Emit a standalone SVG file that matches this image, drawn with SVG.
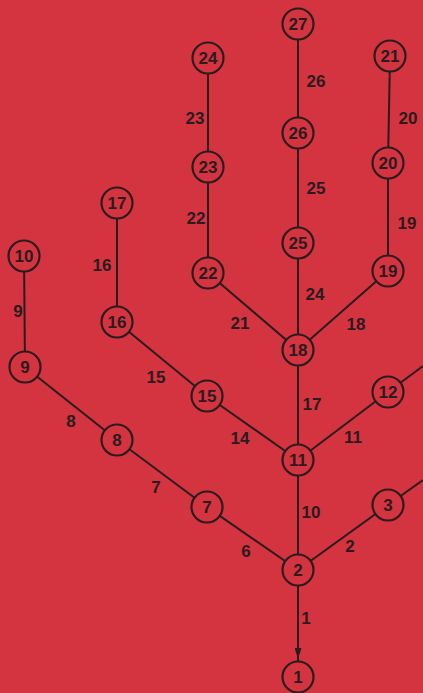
<svg xmlns="http://www.w3.org/2000/svg" width="423" height="693" viewBox="0 0 423 693">
<style>
.e{stroke:#2a1b1e;stroke-width:2;fill:none}
.n circle{fill:#d4343f;stroke:#2a1b1e;stroke-width:2.2}
.n text,.l{font-family:"Liberation Sans",Arial,sans-serif;font-weight:bold;fill:#2a1b1e;text-anchor:middle}
.n text{font-size:17px}
.l{font-size:17px}
</style>
<defs>
<marker id="ar" markerWidth="11" markerHeight="7" refX="11" refY="3.5" orient="auto" markerUnits="userSpaceOnUse" viewBox="0 0 11 7"><path d="M0,0 L11,3.5 L0,7 z" fill="#2a1b1e"/></marker>
</defs>
<rect width="423" height="693" fill="#d4343f"/>
<g id="connectors">
<line class="e" x1="298" y1="585" x2="298" y2="663"/>
<line class="e" x1="298" y1="600" x2="298" y2="659" marker-end="url(#ar)"/>
<line class="e" x1="298" y1="570" x2="207" y2="507"/>
<line class="e" x1="207" y1="507" x2="117" y2="440"/>
<line class="e" x1="117" y1="440" x2="25" y2="367"/>
<line class="e" x1="25" y1="367" x2="24" y2="256"/>
<line class="e" x1="298" y1="570" x2="298" y2="460"/>
<line class="e" x1="298" y1="570" x2="388" y2="505"/>
<line class="e" x1="388" y1="505" x2="423" y2="480"/>
<line class="e" x1="298" y1="460" x2="207" y2="396"/>
<line class="e" x1="207" y1="396" x2="117" y2="322"/>
<line class="e" x1="117" y1="322" x2="117" y2="203"/>
<line class="e" x1="298" y1="460" x2="298" y2="350"/>
<line class="e" x1="298" y1="460" x2="388" y2="392"/>
<line class="e" x1="388" y1="392" x2="423" y2="366"/>
<line class="e" x1="298" y1="350" x2="208" y2="273"/>
<line class="e" x1="208" y1="273" x2="208" y2="167"/>
<line class="e" x1="208" y1="167" x2="208" y2="58"/>
<line class="e" x1="298" y1="350" x2="298" y2="243"/>
<line class="e" x1="298" y1="243" x2="298" y2="133"/>
<line class="e" x1="298" y1="133" x2="298" y2="24"/>
<line class="e" x1="298" y1="350" x2="388" y2="271"/>
<line class="e" x1="388" y1="271" x2="388" y2="163"/>
<line class="e" x1="388" y1="163" x2="390" y2="56"/>
</g>
<g id="edge-labels">
<text class="l" x="306" y="624">1</text>
<text class="l" x="350" y="552">2</text>
<text class="l" x="246" y="557">6</text>
<text class="l" x="156" y="493">7</text>
<text class="l" x="71" y="427">8</text>
<text class="l" x="18" y="317">9</text>
<text class="l" x="311" y="518">10</text>
<text class="l" x="353" y="443">11</text>
<text class="l" x="240" y="444">14</text>
<text class="l" x="156" y="383">15</text>
<text class="l" x="102" y="271">16</text>
<text class="l" x="312" y="410">17</text>
<text class="l" x="356" y="330">18</text>
<text class="l" x="407" y="229">19</text>
<text class="l" x="408" y="124">20</text>
<text class="l" x="240" y="329">21</text>
<text class="l" x="196" y="224">22</text>
<text class="l" x="195" y="124">23</text>
<text class="l" x="315" y="300">24</text>
<text class="l" x="316" y="194">25</text>
<text class="l" x="316" y="87">26</text>
</g>
<g id="n1" class="n"><circle cx="298" cy="677" r="15.5"/><text x="298" y="683">1</text></g>
<g id="n2" class="n"><circle cx="298" cy="570" r="15.5"/><text x="298" y="576">2</text></g>
<g id="n3" class="n"><circle cx="388" cy="505" r="15.5"/><text x="388" y="511">3</text></g>
<g id="n7" class="n"><circle cx="207" cy="507" r="15.5"/><text x="207" y="513">7</text></g>
<g id="n8" class="n"><circle cx="117" cy="440" r="15.5"/><text x="117" y="446">8</text></g>
<g id="n9" class="n"><circle cx="25" cy="367" r="15.5"/><text x="25" y="373">9</text></g>
<g id="n10" class="n"><circle cx="24" cy="256" r="15.5"/><text x="24" y="262">10</text></g>
<g id="n11" class="n"><circle cx="298" cy="460" r="15.5"/><text x="298" y="466">11</text></g>
<g id="n12" class="n"><circle cx="388" cy="392" r="15.5"/><text x="388" y="398">12</text></g>
<g id="n15" class="n"><circle cx="207" cy="396" r="15.5"/><text x="207" y="402">15</text></g>
<g id="n16" class="n"><circle cx="117" cy="322" r="15.5"/><text x="117" y="328">16</text></g>
<g id="n17" class="n"><circle cx="117" cy="203" r="15.5"/><text x="117" y="209">17</text></g>
<g id="n18" class="n"><circle cx="298" cy="350" r="15.5"/><text x="298" y="356">18</text></g>
<g id="n19" class="n"><circle cx="388" cy="271" r="15.5"/><text x="388" y="277">19</text></g>
<g id="n20" class="n"><circle cx="388" cy="163" r="15.5"/><text x="388" y="169">20</text></g>
<g id="n21" class="n"><circle cx="390" cy="56" r="15.5"/><text x="390" y="62">21</text></g>
<g id="n22" class="n"><circle cx="208" cy="273" r="15.5"/><text x="208" y="279">22</text></g>
<g id="n23" class="n"><circle cx="208" cy="167" r="15.5"/><text x="208" y="173">23</text></g>
<g id="n24" class="n"><circle cx="208" cy="58" r="15.5"/><text x="208" y="64">24</text></g>
<g id="n25" class="n"><circle cx="298" cy="243" r="15.5"/><text x="298" y="249">25</text></g>
<g id="n26" class="n"><circle cx="298" cy="133" r="15.5"/><text x="298" y="139">26</text></g>
<g id="n27" class="n"><circle cx="298" cy="24" r="15.5"/><text x="298" y="30">27</text></g>
</svg>
